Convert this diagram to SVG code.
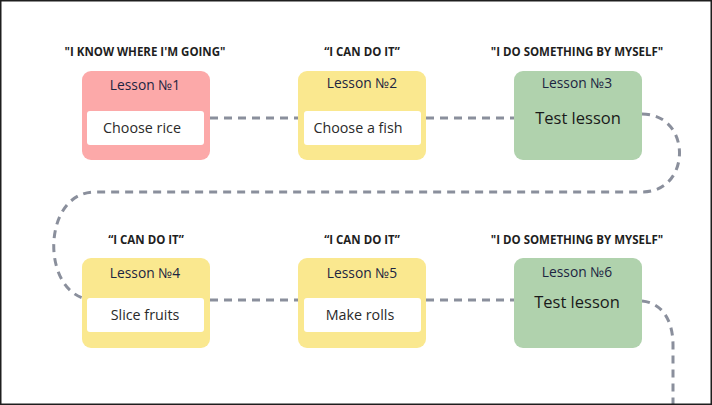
<svg xmlns="http://www.w3.org/2000/svg" width="712" height="405" viewBox="0 0 712 405">
<style>
.title{font-family:"Open Sans","Liberation Sans",sans-serif;font-weight:700;font-size:11.5px;fill:#1e1e1e;text-anchor:middle}
.lesson{font-family:"Open Sans","Liberation Sans",sans-serif;font-size:13.8px;fill:#1c2541;text-anchor:middle}
.task{font-family:"Open Sans","Liberation Sans",sans-serif;font-size:14.3px;fill:#2a2a2a;text-anchor:middle}
.test{font-family:"Open Sans","Liberation Sans",sans-serif;font-size:16.5px;fill:#1a1a1a;text-anchor:middle}
.red{fill:#fca9a9}
.yellow{fill:#fae88f}
.green{fill:#b0d2ad}
.inner{fill:#ffffff}
.path{fill:none;stroke:#8a8f9c;stroke-width:3;stroke-dasharray:8 6}
</style>
<rect x="0" y="0" width="712" height="405" fill="#ffffff"/>
<g id="connectors">
<path class="path" d="M210 118 L298 118"/>
<path class="path" d="M426 118 L514 118"/>
<path class="path" d="M642 114 C692 114 692 192 642 192 L95 192 C40 192 40 300 95 300"/>
<path class="path" d="M210 300 L298 300"/>
<path class="path" d="M426 300 L514 300"/>
<path class="path" d="M642 301 C662 303 673 320 673 345 L673 405"/>
</g>
<g id="lesson1">
<text class="title" x="145" y="56">"I KNOW WHERE I'M GOING"</text>
<rect class="red" x="82" y="71" width="128" height="89" rx="9"/>
<text class="lesson" x="145" y="90">Lesson №1</text>
<rect class="inner" x="87" y="111" width="117" height="34" rx="3"/>
<text class="task" x="142" y="133">Choose rice</text>
</g>
<g id="lesson2">
<text class="title" x="362" y="56">“I CAN DO IT”</text>
<rect class="yellow" x="298" y="71" width="128" height="89" rx="9"/>
<text class="lesson" x="362" y="88">Lesson №2</text>
<rect class="inner" x="304" y="111" width="117" height="34" rx="3"/>
<text class="task" x="358" y="133">Choose a fish</text>
</g>
<g id="lesson3">
<text class="title" x="577" y="56">"I DO SOMETHING BY MYSELF"</text>
<rect class="green" x="514" y="71" width="128" height="89" rx="9"/>
<text class="lesson" x="577" y="88">Lesson №3</text>
<text class="test" x="578" y="124">Test lesson</text>
</g>
<g id="lesson4">
<text class="title" x="146" y="244">“I CAN DO IT”</text>
<rect class="yellow" x="82" y="258" width="128" height="90" rx="9"/>
<text class="lesson" x="145" y="278">Lesson №4</text>
<rect class="inner" x="87" y="298" width="117" height="34" rx="3"/>
<text class="task" x="145" y="320">Slice fruits</text>
</g>
<g id="lesson5">
<text class="title" x="362" y="244">“I CAN DO IT”</text>
<rect class="yellow" x="298" y="258" width="128" height="90" rx="9"/>
<text class="lesson" x="362" y="278">Lesson №5</text>
<rect class="inner" x="304" y="298" width="117" height="34" rx="3"/>
<text class="task" x="360" y="320">Make rolls</text>
</g>
<g id="lesson6">
<text class="title" x="577" y="244">"I DO SOMETHING BY MYSELF"</text>
<rect class="green" x="514" y="258" width="128" height="90" rx="9"/>
<text class="lesson" x="577" y="277">Lesson №6</text>
<text class="test" x="577" y="308">Test lesson</text>
</g>
<rect x="0.75" y="0.75" width="710.5" height="403.5" fill="none" stroke="#1e1e1e" stroke-width="1.5"/>
</svg>
